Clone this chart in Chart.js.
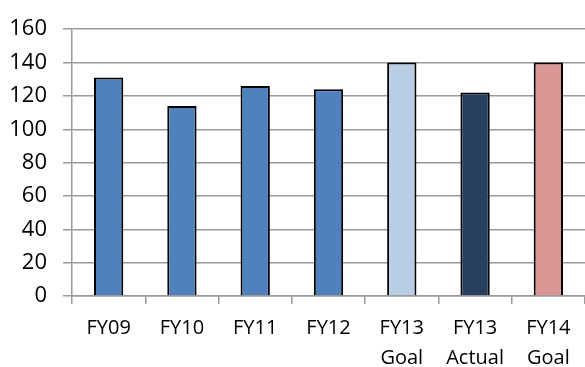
<!DOCTYPE html>
<html>
<head>
<meta charset="utf-8">
<script src="https://cdn.jsdelivr.net/npm/chart.js@4/dist/chart.umd.min.js"></script>
<style>
  html, body { margin: 0; padding: 0; background: #fff; }
  #wrap { width: 585px; height: 367px; }
</style>
</head>
<body>
<div id="wrap"><canvas id="fyChart"></canvas></div>
<script>
// data
const categories = [['FY09'], ['FY10'], ['FY11'], ['FY12'], ['FY13', 'Goal'], ['FY13', 'Actual'], ['FY14', 'Goal']];
const values = [131, 114, 126, 124, 140, 122, 140];
const barColors = ['#4F81BD', '#4F81BD', '#4F81BD', '#4F81BD', '#B9CDE5', '#27405F', '#D99694'];
const yTicks = [0, 20, 40, 60, 80, 100, 120, 140, 160];

const gridColor = '#9a9a9a';

const ctx = document.getElementById('fyChart').getContext('2d');
const fyChart = new Chart(ctx, {
    type: 'bar',
    data: {
        labels: categories,
        datasets: [{
            data: values,
            backgroundColor: barColors,
            borderColor: '#000',
            borderWidth: 2,
            categoryPercentage: 1,
            barPercentage: 0.4
        }]
    },
    options: {
        responsive: true,
        maintainAspectRatio: false,
        animation: false,
        layout: {
            padding: { top: 19, left: 0, right: 0, bottom: 0 }
        },
        plugins: {
            legend: { display: false },
            tooltip: { enabled: false }
        },
        scales: {
            y: {
                min: 0,
                max: 160,
                afterBuildTicks: (axis) => {
                    axis.ticks = yTicks.map(v => ({ value: v }));
                },
                afterFit: (axis) => { axis.width = 72; },
                grid: {
                    color: gridColor,
                    lineWidth: 1.5,
                    tickLength: 9
                },
                border: { color: gridColor, width: 1.5 },
                ticks: {
                    padding: 16,
                    color: '#000',
                    font: { family: 'Open Sans', size: 22 }
                }
            },
            x: {
                afterFit: (axis) => { axis.height = 71; },
                grid: {
                    drawOnChartArea: false,
                    color: gridColor,
                    lineWidth: 1.5,
                    tickLength: 8
                },
                border: { color: gridColor, width: 1.5 },
                ticks: {
                    padding: 9,
                    color: '#000',
                    font: { family: 'Open Sans', size: 20, lineHeight: 1.5 }
                }
            }
        }
    }
});
</script>
</body>
</html>
